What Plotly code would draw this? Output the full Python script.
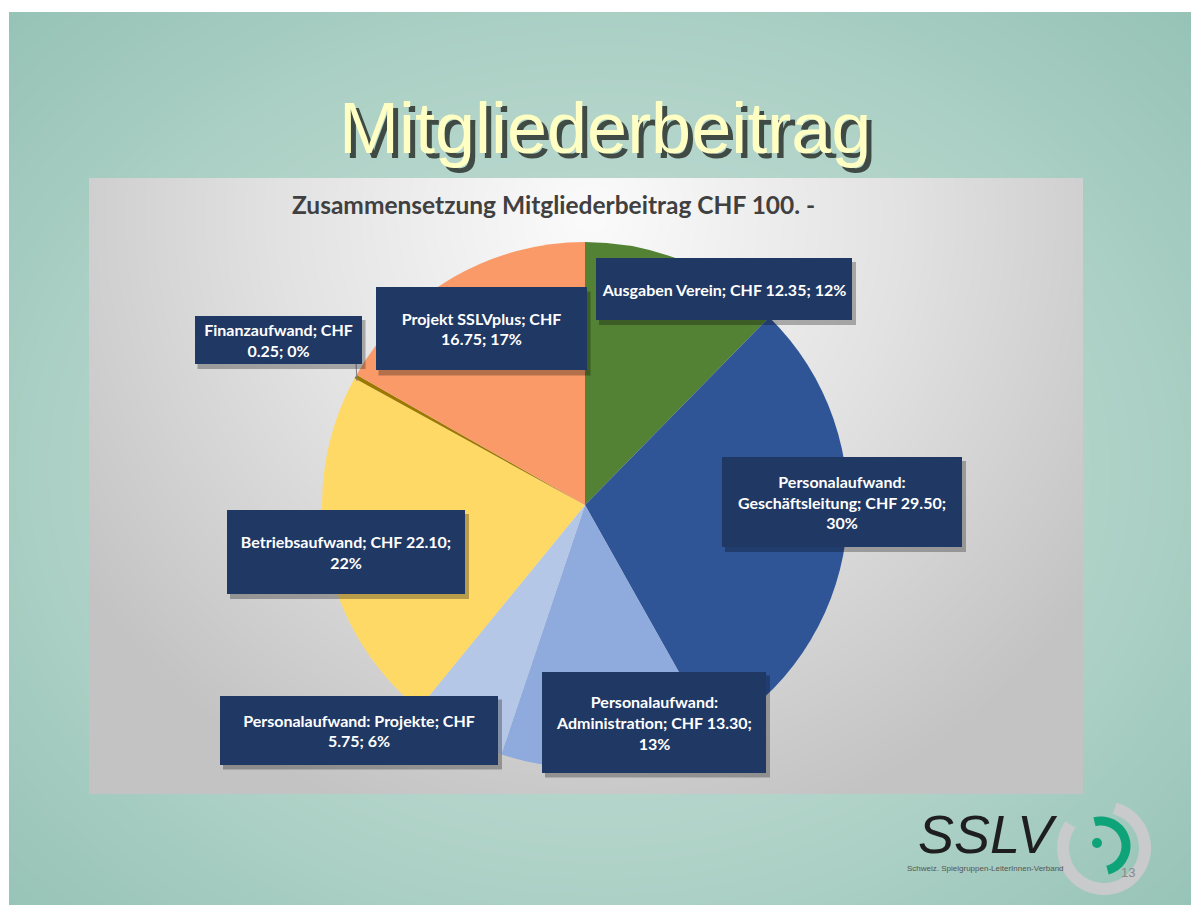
import numpy as np
import plotly.graph_objects as go

# ---------------- data ----------------
categories = ["Ausgaben Verein", "Personalaufwand: Geschäftsleitung", "Personalaufwand: Administration",
              "Personalaufwand: Projekte", "Betriebsaufwand", "Finanzaufwand", "Projekt SSLVplus"]
values = [12.35, 29.50, 13.30, 5.75, 22.10, 0.25, 16.75]
# how each data label is wrapped ({c}=category, {v}=value, {p}=percent)
label_templates = ["{c}; CHF {v}; {p}%",
                   "Personalaufwand:<br>Geschäftsleitung; CHF {v};<br>{p}%",
                   "Personalaufwand:<br>Administration; CHF {v};<br>{p}%",
                   "{c}; CHF<br>{v}; {p}%",
                   "{c}; CHF {v};<br>{p}%",
                   "{c}; CHF<br>{v}; {p}%",
                   "{c}; CHF<br>{v}; {p}%"]
slide_title = "Mitgliederbeitrag"
chart_title = "Zusammensetzung Mitgliederbeitrag CHF 100. -"

# ---------------- styles ----------------
colors = ["#548235", "#2F5597", "#8FAADC", "#B4C7E7", "#FFD966", "#9C7800", "#FA9A68"]
# label boxes (center x, center y, width, height) in page pixels
boxes = [(724, 289, 256, 62), (842, 502, 240, 90), (654, 722, 224, 101),
         (359, 730, 278, 69), (346, 552, 238, 84), (278, 340, 167, 48), (481, 329, 211, 83)]

PW, PH = 1199, 905     # page size
OFF = 8                # body margin of the html page
W, H = PW - OFF, PH - OFF
fig = go.Figure()

def dx(px):  # page x -> figure paper fraction
    return (px - OFF) / W

def dy(py):  # page y (from top) -> figure paper fraction (from bottom)
    return (PH - py) / H

# slide background gradient (page pixel coordinates)
sx = np.linspace(9, PW, 60)
sy = np.linspace(12, PH, 50)
SX, SY = np.meshgrid(sx, sy)
sz = np.sqrt(((SX - 600) / 700) ** 2 + ((SY - 470) / 560) ** 2)
fig.add_trace(go.Heatmap(x=sx, y=sy, z=sz, zsmooth="best", showscale=False, hoverinfo="skip",
                         colorscale=[[0, "#C9E0D9"], [0.6, "#AFD2C7"], [1, "#96C2B6"]],
                         xaxis="x", yaxis="y"))

# chart area gradient
cx = np.linspace(89, 1083, 60)
cy = np.linspace(178, 794, 40)
CX, CY = np.meshgrid(cx, cy)
cz = np.sqrt(((CX - 590) / 620) ** 2 + ((CY - 215) / 640) ** 2)
fig.add_trace(go.Heatmap(x=cx, y=cy, z=cz, zsmooth="best", showscale=False, hoverinfo="skip",
                         colorscale=[[0, "#FBFBFB"], [0.5, "#E2E2E2"], [1, "#C3C3C3"]],
                         zmin=0, zmax=1.0, xaxis="x2", yaxis="y2"))

# pie
pcx, pcy, pr = 585, 505, 263
fig.add_trace(go.Pie(labels=categories, values=values, sort=False, direction="clockwise",
                     rotation=0, textinfo="none", hoverinfo="label+value+percent",
                     marker=dict(colors=colors, line=dict(width=0)), showlegend=False,
                     domain=dict(x=[dx(pcx - pr), dx(pcx + pr)],
                                 y=[dy(pcy + pr), dy(pcy - pr)])))

total = sum(values)
shapes = []
annotations = []

# leader line for Finanzaufwand
shapes.append(dict(type="line", xref="x", yref="y", x0=356, y0=364, x1=357, y1=381,
                   line=dict(color="#7F7F7F", width=1)))

for i, (cat, val) in enumerate(zip(categories, values)):
    pct = int(val / total * 100 + 0.5)
    txt = label_templates[i].format(c=cat, v=f"{val:.2f}", p=pct)
    bx, by, bw, bh = boxes[i]
    shapes.append(dict(type="rect", xref="x", yref="y", x0=bx - bw / 2 + 3, x1=bx + bw / 2 + 4,
                       y0=by - bh / 2 + 4, y1=by + bh / 2 + 5,
                       fillcolor="rgba(0,0,0,0.28)", line=dict(width=0)))
    annotations.append(dict(xref="x", yref="y", x=bx, y=by, text=txt, showarrow=False,
                            width=bw, height=bh, bgcolor="#203864", borderpad=0, borderwidth=0,
                            xanchor="center", yanchor="middle", align="center",
                            font=dict(family="Lato", size=16, color="white", weight="bold")))

# slide title with shadow
annotations.append(dict(xref="x", yref="y", x=610, y=133, text=slide_title, showarrow=False,
                        font=dict(family="Liberation Sans", size=72, color="rgba(35,40,35,0.8)")))
annotations.append(dict(xref="x", yref="y", x=605, y=128, text=slide_title, showarrow=False,
                        font=dict(family="Liberation Sans", size=72, color="#FFFFC4")))
# chart title
annotations.append(dict(xref="x", yref="y", x=553, y=205, text=chart_title, showarrow=False,
                        font=dict(family="Lato", size=24.5, color="#404040", weight="bold")))

# logo
def arc(cx0, cy0, r, a0, a1, n=50):
    t = np.radians(np.linspace(a0, a1, n))
    xs = cx0 + r * np.cos(t)
    ys = cy0 - r * np.sin(t)
    return "M " + " L ".join(f"{x:.1f},{y:.1f}" for x, y in zip(xs, ys))

shapes.append(dict(type="path", xref="x", yref="y", path=arc(1104, 848, 41, 75, -215),
                   line=dict(color="#C8CACC", width=12)))
shapes.append(dict(type="path", xref="x", yref="y", path=arc(1101, 846, 25, 105, -75),
                   line=dict(color="#0FA37A", width=9)))
shapes.append(dict(type="circle", xref="x", yref="y", x0=1092, x1=1102, y0=838, y1=848,
                   fillcolor="#0FA37A", line=dict(width=0)))
annotations.append(dict(xref="x", yref="y", x=988, y=834, text="<i>SSLV</i>", showarrow=False,
                        font=dict(family="Liberation Sans", size=54, color="#1E1E1E")))
annotations.append(dict(xref="x", yref="y", x=985, y=868, text="Schweiz. Spielgruppen-LeiterInnen-Verband",
                        showarrow=False, font=dict(family="Liberation Sans Narrow, Liberation Sans", size=8, color="#555555")))
annotations.append(dict(xref="x", yref="y", x=1128, y=872, text="13", showarrow=False,
                        font=dict(family="Liberation Sans", size=13, color="#8A8A8A")))

ax_hidden = dict(visible=False, showgrid=False, zeroline=False, fixedrange=True)
fig.update_layout(
    width=W, height=H, margin=dict(l=0, r=0, t=0, b=0),
    paper_bgcolor="white", plot_bgcolor="rgba(0,0,0,0)",
    xaxis=dict(ax_hidden, domain=[dx(9), 1], range=[9, PW]),
    yaxis=dict(ax_hidden, domain=[0, dy(12)], range=[PH, 12]),
    xaxis2=dict(ax_hidden, domain=[dx(89), dx(1083)], range=[89, 1083], anchor="y2"),
    yaxis2=dict(ax_hidden, domain=[dy(794), dy(178)], range=[794, 178], anchor="x2"),
    shapes=shapes, annotations=annotations, showlegend=False,
)
fig.write_html("out.html")
